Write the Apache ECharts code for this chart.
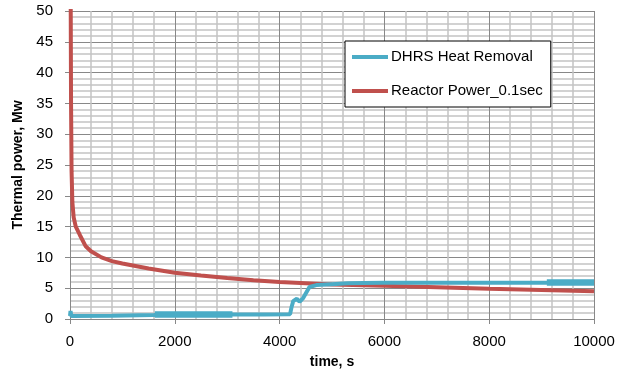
<!DOCTYPE html>
<html><head><meta charset="utf-8">
<script src="https://cdn.jsdelivr.net/npm/echarts@6/dist/echarts.min.js"></script>
<style>html,body{margin:0;padding:0;background:#fff}#c{width:624px;height:380px}</style>
</head><body><div id="c"></div>
<script>
const seriesNames = ['DHRS Heat Removal', 'Reactor Power_0.1sec'];
const xAxisTitle = 'time, s';
const yAxisTitle = 'Thermal power, Mw';

// DHRS Heat Removal [time s, MW]
const dhrsTime = [0, 10, 25, 60, 800, 1600, 2000, 3100, 3700, 4200, 4230, 4260, 4330, 4380, 4450, 4570, 4700, 5000, 5300, 5600, 6000, 7000, 8000, 9100, 10000];
const dhrsPower = [0.5, 1.3, 0.5, 0.5, 0.52, 0.65, 0.75, 0.75, 0.74, 0.78, 2.0, 2.9, 3.3, 2.8, 3.4, 5.2, 5.5, 5.65, 5.8, 5.85, 5.88, 5.88, 5.88, 5.9, 5.9];
// DHRS noisy (oscillating) stretches, drawn as a wider band
const dhrsNoisyTime1 = [1620, 2000, 2500, 3100];
const dhrsNoisyPower1 = [0.72, 0.75, 0.75, 0.75];
const dhrsNoisyTime2 = [9100, 9500, 10000];
const dhrsNoisyPower2 = [5.92, 5.92, 5.92];

// Reactor Power_0.1sec [time s, MW]
const reactorTime = [10, 20, 30, 45, 70, 110, 190, 300, 400, 600, 800, 1000, 1500, 2000, 2500, 3000, 3500, 4000, 5000, 6000, 7000, 8000, 9000, 10000];
const reactorPower = [60, 35, 24, 19, 16.5, 15, 13.6, 11.8, 11, 10, 9.4, 9, 8.2, 7.5, 7.05, 6.65, 6.3, 6.0, 5.6, 5.4, 5.15, 4.9, 4.7, 4.5];

const pair = (xs, ys) => xs.map((x, i) => [x, ys[i]]);

const chart = echarts.init(document.getElementById('c'), null, {renderer: 'canvas'});
const font = 'Liberation Sans';
const blue = '#4BACC6', red = '#C0504D';
chart.setOption({
  animation: false,
  backgroundColor: '#fff',
  textStyle: {fontFamily: font},
  grid: {left: 70, right: 30, top: 11, bottom: 61},
  legend: {
    left: 345, top: 41, orient: 'vertical',
    backgroundColor: '#fff', borderColor: '#000', borderWidth: 1,
    padding: [7, 8, 7, 7], itemGap: 16, itemWidth: 36, itemHeight: 4, icon: 'rect',
    textStyle: {fontFamily: font, fontSize: 15, color: '#000', lineHeight: 18, padding: [0, 0, 0, -2]},
    data: seriesNames
  },
  xAxis: {
    type: 'value', min: 0, max: 10000, interval: 2000,
    name: xAxisTitle, nameLocation: 'middle', nameGap: 36,
    nameTextStyle: {fontFamily: font, fontSize: 14, fontWeight: 'bold', color: '#000'},
    axisLine: {show: true, lineStyle: {color: '#888', width: 1}},
    axisTick: {show: true, length: 5, lineStyle: {color: '#888'}},
    axisLabel: {fontFamily: font, fontSize: 15, color: '#000', margin: 15, formatter: v => String(v)},
    splitLine: {show: true, lineStyle: {color: '#888', width: 1}},
    minorTick: {show: false, splitNumber: 5},
    minorSplitLine: {show: true, lineStyle: {color: '#c4c4c4', width: 1.5}}
  },
  yAxis: {
    type: 'value', min: 0, max: 50, interval: 5,
    name: yAxisTitle, nameLocation: 'middle', nameGap: 42, nameRotate: 90,
    nameTextStyle: {fontFamily: font, fontSize: 14, fontWeight: 'bold', color: '#000'},
    axisLine: {show: true, lineStyle: {color: '#888', width: 1}},
    axisTick: {show: true, length: 5, lineStyle: {color: '#888'}},
    axisLabel: {fontFamily: font, fontSize: 15, color: '#000', margin: 17, formatter: v => String(v)},
    splitLine: {show: true, lineStyle: {color: '#888', width: 1}},
    minorTick: {show: false, splitNumber: 5},
    minorSplitLine: {show: true, lineStyle: {color: '#c4c4c4', width: 1.5}}
  },
  series: [
    {name: seriesNames[0], type: 'line', showSymbol: false, symbol: 'none', z: 3,
     lineStyle: {color: blue, width: 4}, itemStyle: {color: blue},
     data: pair(dhrsTime, dhrsPower)},
    {name: 'dhrs-noise-1', type: 'line', showSymbol: false, symbol: 'none', z: 3,
     lineStyle: {color: blue, width: 6.5}, itemStyle: {color: blue},
     data: pair(dhrsNoisyTime1, dhrsNoisyPower1)},
    {name: 'dhrs-noise-2', type: 'line', showSymbol: false, symbol: 'none', z: 3,
     lineStyle: {color: blue, width: 6.5}, itemStyle: {color: blue},
     data: pair(dhrsNoisyTime2, dhrsNoisyPower2)},
    {name: seriesNames[1], type: 'line', showSymbol: false, symbol: 'none', z: 2,
     lineStyle: {color: red, width: 4}, itemStyle: {color: red},
     data: pair(reactorTime, reactorPower)}
  ]
});
</script></body></html>
